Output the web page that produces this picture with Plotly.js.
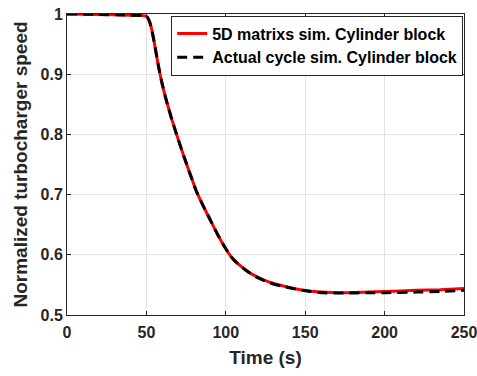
<!DOCTYPE html>
<html>
<head>
<meta charset="utf-8">
<script src="https://cdn.plot.ly/plotly-3.0.1.min.js"></script>
<style>
  html, body { margin: 0; padding: 0; background: #ffffff; }
  #chart { width: 477px; height: 376px; }
</style>
</head>
<body>
<div id="chart"></div>
<script>
// Time samples (s)
const timeS = [0, 20, 40, 47, 50, 51, 52, 53, 54, 55, 56, 57, 58, 59, 60, 62, 64, 66, 69, 72, 75.4, 78.5,
               81.7, 86, 90, 95, 100, 103, 106, 110, 115, 120, 127, 135, 148, 160, 175, 190, 200, 220, 235, 250];

// Normalized turbocharger speed, 5D matrix simulation
const speed5D = [1.000, 0.9993, 0.998, 0.9975, 0.996, 0.993, 0.987, 0.978, 0.966, 0.952, 0.937, 0.922, 0.908, 0.895, 0.883, 0.862, 0.843, 0.825, 0.800, 0.776, 0.750, 0.727,
                 0.704, 0.680, 0.659, 0.633, 0.610, 0.598, 0.589, 0.580, 0.570, 0.563, 0.555, 0.549, 0.5415, 0.538, 0.537, 0.538, 0.539, 0.541, 0.542, 0.544];

// Normalized turbocharger speed, actual cycle simulation
const speedActual = [1.000, 0.9993, 0.998, 0.9975, 0.996, 0.993, 0.987, 0.978, 0.966, 0.952, 0.937, 0.922, 0.908, 0.895, 0.883, 0.862, 0.843, 0.825, 0.800, 0.776, 0.750, 0.727,
                     0.704, 0.680, 0.659, 0.633, 0.610, 0.598, 0.589, 0.580, 0.570, 0.562, 0.554, 0.548, 0.541, 0.537, 0.5365, 0.537, 0.537, 0.538, 0.539, 0.541];

const seriesNames = ['5D matrixs sim. Cylinder block', 'Actual cycle sim. Cylinder block'];
const xTicks = [0, 50, 100, 150, 200, 250];
const yTicks = [0.5, 0.6, 0.7, 0.8, 0.9, 1];
const yTickText = ['0.5', '0.6', '0.7', '0.8', '0.9', '1'];

const ink = '#262626';
const fontFamily = '"Liberation Sans", Arial, sans-serif';

const traces = [
  {
    x: timeS, y: speed5D, name: seriesNames[0], type: 'scatter', mode: 'lines',
    line: { color: '#ff0000', width: 3, shape: 'spline', smoothing: 0.5 }
  },
  {
    x: timeS, y: speedActual, name: seriesNames[1], type: 'scatter', mode: 'lines',
    line: { color: '#000000', width: 3, dash: '10px,6px', shape: 'spline', smoothing: 0.5 }
  }
];

const axisCommon = {
  showline: true, linecolor: ink, linewidth: 1, mirror: 'ticks',
  ticks: 'inside', ticklen: 4, tickcolor: ink, tickwidth: 1,
  showgrid: true, gridcolor: '#e3e3e3', gridwidth: 1,
  zeroline: false, ticklabeloverflow: 'allow',
  tickfont: { family: fontFamily, size: 16, color: ink, weight: 'bold' }
};

const layout = {
  width: 477, height: 376,
  margin: { l: 67, r: 13, t: 14, b: 61 },
  paper_bgcolor: '#ffffff', plot_bgcolor: '#ffffff',
  font: { family: fontFamily, color: ink },
  showlegend: true,
  legend: {
    x: 0.998, xanchor: 'right', y: 0.995, yanchor: 'top',
    bgcolor: '#ffffff', bordercolor: ink, borderwidth: 1,
    font: { family: fontFamily, size: 16, color: '#000000', weight: 'bold' },
    tracegroupgap: 0
  },
  xaxis: Object.assign({}, axisCommon, {
    range: [0, 250], tickvals: xTicks, ticktext: xTicks.map(String),
    ticklabelstandoff: 3,
    title: { text: 'Time (s)', font: { family: fontFamily, size: 19, color: ink, weight: 'bold' }, standoff: 10 }
  }),
  yaxis: Object.assign({}, axisCommon, {
    range: [0.5, 1], tickvals: yTicks, ticktext: yTickText,
    title: { text: 'Normalized turbocharger speed', font: { family: fontFamily, size: 19, color: ink, weight: 'bold' }, standoff: 7 }
  })
};

Plotly.newPlot('chart', traces, layout, { displayModeBar: false, staticPlot: true });
</script>
</body>
</html>
